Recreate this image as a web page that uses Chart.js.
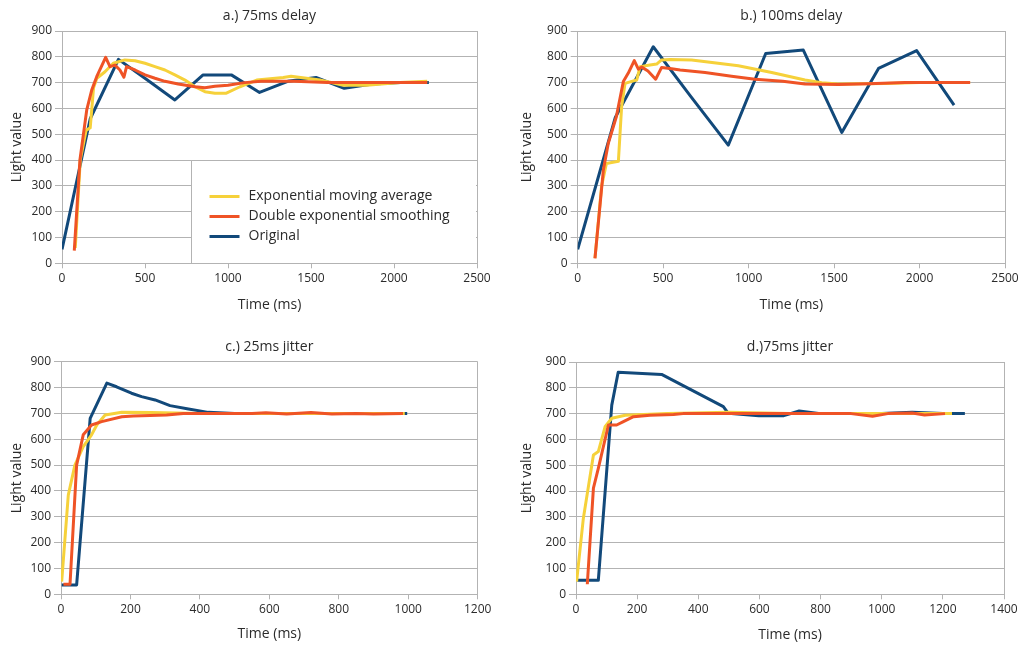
<!DOCTYPE html>
<html>
<head>
<meta charset="utf-8">
<script src="https://cdn.jsdelivr.net/npm/chart.js@4.4.1/dist/chart.umd.min.js"></script>
<style>
  body { margin: 0; background: #fff; width: 1019px; height: 645px; overflow: hidden; position: relative; }
  .panel { position: absolute; }
</style>
</head>
<body>
<div class="panel" style="left:0;top:0;width:505px;height:320px"><canvas id="chartA"></canvas></div>
<div class="panel" style="left:505px;top:0;width:514px;height:320px"><canvas id="chartB"></canvas></div>
<div class="panel" style="left:0;top:320px;width:505px;height:325px"><canvas id="chartC"></canvas></div>
<div class="panel" style="left:505px;top:320px;width:514px;height:325px"><canvas id="chartD"></canvas></div>
<script>
// series names (legend order)
const seriesNames = ['Exponential moving average', 'Double exponential smoothing', 'Original'];

// a.) 75ms delay
const aOrigT = [0, 170, 340, 510, 680, 850, 1020, 1190, 1360, 1530, 1700, 1870, 2040, 2210];
const aOrigV = [54, 560, 790, 712, 633, 730, 730, 662, 705, 720, 678, 695, 700, 700];
const aDesT = [74, 108, 149, 179, 209, 263, 289, 319, 349, 373, 389, 440, 500, 560, 620, 700, 801, 861, 921, 1000, 1100, 1200, 1400, 1600, 1800, 2000, 2200];
const aDesV = [49, 400, 594, 671, 723, 798, 762, 768, 749, 721, 762, 749, 730, 717, 705, 695, 684, 680, 686, 690, 700, 705, 705, 700, 700, 700, 700];
const aEmaT = [80, 110, 145, 170, 190, 210, 259, 309, 379, 440, 500, 560, 620, 680, 741, 801, 861, 921, 990, 1072, 1173, 1333, 1380, 1554, 1695, 1835, 2036, 2200];
const aEmaV = [60, 400, 515, 525, 680, 717, 742, 775, 788, 785, 775, 762, 749, 730, 710, 684, 665, 659, 659, 684, 710, 720, 725, 710, 690, 690, 700, 705];

// b.) 100ms delay
const bOrigT = [0, 220, 442, 660, 881, 1100, 1320, 1545, 1760, 1983, 2202];
const bOrigV = [54, 565, 839, 648, 458, 813, 826, 507, 755, 824, 613];
const bDesT = [101, 150, 179, 226, 267, 296, 331, 355, 375, 411, 456, 491, 540, 599, 745, 900, 1037, 1200, 1330, 1525, 1700, 1915, 2100, 2296];
const bDesV = [19, 361, 465, 568, 704, 737, 785, 752, 760, 745, 713, 759, 755, 749, 739, 725, 713, 705, 695, 693, 696, 700, 700, 700];
const bEmaT = [101, 140, 168, 238, 257, 277, 316, 345, 365, 423, 462, 491, 540, 667, 940, 1135, 1330, 1428, 1525, 1800, 2000, 2296];
const bEmaV = [20, 300, 387, 395, 607, 697, 705, 710, 762, 768, 772, 788, 790, 788, 765, 739, 710, 700, 695, 697, 700, 700];

// c.) 25ms jitter
const cOrigT = [2, 45, 84, 132, 160, 203, 232, 271, 314, 367, 424, 500, 600, 700, 800, 900, 997];
const cOrigV = [36, 36, 681, 817, 803, 778, 765, 752, 730, 717, 704, 700, 700, 700, 700, 700, 700];
const cDesT = [7, 26, 45, 64, 88, 117, 175, 208, 304, 352, 450, 550, 590, 650, 720, 780, 850, 900, 985];
const cDesV = [39, 39, 500, 617, 655, 668, 687, 690, 694, 700, 700, 700, 702, 698, 703, 698, 700, 698, 700];
const cEmaT = [2, 21, 40, 64, 88, 103, 127, 175, 260, 400, 600, 800, 990];
const cEmaV = [49, 384, 500, 571, 617, 655, 694, 704, 703, 700, 700, 700, 700];

// d.) 75ms jitter
const dOrigT = [4, 73, 117, 138, 280, 482, 498, 598, 680, 730, 800, 900, 1000, 1100, 1200, 1272];
const dOrigV = [54, 54, 733, 860, 852, 727, 701, 692, 692, 710, 700, 700, 700, 705, 700, 700];
const dDesT = [37, 57, 73, 106, 133, 155, 188, 242, 319, 350, 500, 700, 900, 970, 1020, 1100, 1140, 1207];
const dDesV = [39, 411, 488, 656, 656, 669, 688, 694, 697, 700, 700, 700, 700, 690, 700, 702, 695, 700];
const dEmaT = [2, 24, 57, 73, 95, 117, 161, 300, 500, 700, 900, 1100, 1230];
const dEmaV = [49, 294, 540, 553, 649, 682, 694, 700, 705, 700, 700, 700, 700];

const GRID = '#b3b3b3';
const TEXT = '#2b2b2b';
const FONT = '"Open Sans", sans-serif';
const colors = { ema: '#f6d13a', des: '#ef5326', orig: '#12497a' };

function zip(ts, vs) {
  return ts.map((t, i) => ({ x: t, y: vs[i] }));
}

// panel title centred over the plot area
const panelTitle = {
  id: 'panelTitle',
  afterDraw(chart, args, opts) {
    const { ctx, chartArea } = chart;
    ctx.save();
    ctx.font = '14px ' + FONT;
    ctx.fillStyle = TEXT;
    ctx.textAlign = 'center';
    ctx.textBaseline = 'middle';
    ctx.fillText(opts.text, (chartArea.left + chartArea.right) / 2, opts.y);
    ctx.restore();
  }
};

// legend drawn inside the plot, in a white box
const legendBox = {
  id: 'legendBox',
  afterDatasetsDraw(chart, args, opts) {
    if (!opts.show) return;
    const { ctx, chartArea } = chart;
    const x = Math.round(chart.scales.x.getPixelForValue(opts.fromX)) + 0.5;
    const y = Math.round(chart.scales.y.getPixelForValue(opts.fromY)) + 0.5;
    ctx.save();
    ctx.fillStyle = '#fff';
    ctx.fillRect(x, y, chartArea.right - x - 1, chartArea.bottom - y - 1);
    ctx.strokeStyle = GRID;
    ctx.lineWidth = 1;
    ctx.beginPath();
    ctx.moveTo(x, chartArea.bottom);
    ctx.lineTo(x, y);
    ctx.lineTo(chartArea.right, y);
    ctx.stroke();
    const swatch = [colors.ema, colors.des, colors.orig];
    ctx.font = '14px ' + FONT;
    ctx.textBaseline = 'middle';
    seriesNames.forEach((name, i) => {
      const ry = y + 36 + i * 20;
      ctx.strokeStyle = swatch[i];
      ctx.lineWidth = 3;
      ctx.beginPath();
      ctx.moveTo(x + 18, ry);
      ctx.lineTo(x + 48, ry);
      ctx.stroke();
      ctx.fillStyle = TEXT;
      ctx.fillText(name, x + 57, ry);
    });
    ctx.restore();
  }
};

function makePanel(id, p) {
  const line = (label, data, color) => ({
    label: label,
    data: data,
    borderColor: color,
    backgroundColor: color,
    borderWidth: 3,
    pointRadius: 0,
    tension: 0,
    borderJoinStyle: 'round'
  });
  return new Chart(document.getElementById(id), {
    type: 'line',
    data: {
      // first dataset is drawn on top
      datasets: [
        line(seriesNames[1], p.des, colors.des),
        line(seriesNames[0], p.ema, colors.ema),
        line(seriesNames[2], p.orig, colors.orig)
      ]
    },
    plugins: [legendBox, panelTitle],
    options: {
      responsive: true,
      maintainAspectRatio: false,
      animation: false,
      layout: { padding: { left: 0, right: p.right, top: p.top, bottom: 0 } },
      plugins: {
        legend: { display: false },
        tooltip: { enabled: false },
        panelTitle: { text: p.title, y: p.titleY },
        legendBox: { show: p.legend, fromX: p.legendX, fromY: 400 }
      },
      scales: {
        x: {
          type: 'linear',
          min: 0,
          max: p.xMax,
          ticks: {
            stepSize: p.xStep, color: TEXT, font: { family: FONT, size: 12 }, padding: 3, maxRotation: 0,
            format: { useGrouping: false }
          },
          grid: {
            color: (c) => (c.tick && (c.tick.value === 0 || c.tick.value === p.xMax)) ? GRID : 'rgba(0,0,0,0)',
            tickColor: GRID,
            tickLength: 5
          },
          border: { color: GRID },
          title: { display: true, text: 'Time (ms)', color: TEXT, font: { family: FONT, size: 14 }, padding: { top: 0, bottom: p.xTitlePad } },
          afterFit(s) { s.height = p.xHeight; s.paddingLeft = 0; s.paddingRight = 0; }
        },
        y: {
          min: 0,
          max: 900,
          ticks: { stepSize: 100, color: TEXT, font: { family: FONT, size: 12 }, padding: 3, format: { useGrouping: false } },
          grid: { color: GRID, tickColor: GRID, tickLength: 7 },
          border: { color: GRID },
          title: { display: true, text: 'Light value', color: TEXT, font: { family: FONT, size: 14 }, padding: { top: p.yTitlePad, bottom: 0 } },
          afterFit(s) { s.width = p.yWidth; s.paddingTop = 0; s.paddingBottom = 0; }
        }
      }
    }
  });
}

makePanel('chartA', {
  title: 'a.) 75ms delay', titleY: 16, xMax: 2500, xStep: 500,
  orig: zip(aOrigT, aOrigV), des: zip(aDesT, aDesV), ema: zip(aEmaT, aEmaV),
  yWidth: 62, right: 28, top: 31, xHeight: 56.7, yTitlePad: 8.6, xTitlePad: 6.6,
  legend: true, legendX: 780
});
makePanel('chartB', {
  title: 'b.) 100ms delay', titleY: 16, xMax: 2500, xStep: 500,
  orig: zip(bOrigT, bOrigV), des: zip(bDesT, bDesV), ema: zip(bEmaT, bEmaV),
  yWidth: 72.7, right: 14, top: 31, xHeight: 56.7, yTitlePad: 13.3, xTitlePad: 6.6,
  legend: false
});
makePanel('chartC', {
  title: 'c.) 25ms jitter', titleY: 27, xMax: 1200, xStep: 200,
  orig: zip(cOrigT, cOrigV), des: zip(cDesT, cDesV), ema: zip(cEmaT, cEmaV),
  yWidth: 61, right: 27.3, top: 41.7, xHeight: 50.7, yTitlePad: 8.3, xTitlePad: 2.6,
  legend: false
});
makePanel('chartD', {
  title: 'd.)75ms jitter', titleY: 27, xMax: 1400, xStep: 200,
  orig: zip(dOrigT, dOrigV), des: zip(dDesT, dDesV), ema: zip(dEmaT, dEmaV),
  yWidth: 71, right: 15, top: 42, xHeight: 50.7, yTitlePad: 13.3, xTitlePad: 1.6,
  legend: false
});
</script>
</body>
</html>
